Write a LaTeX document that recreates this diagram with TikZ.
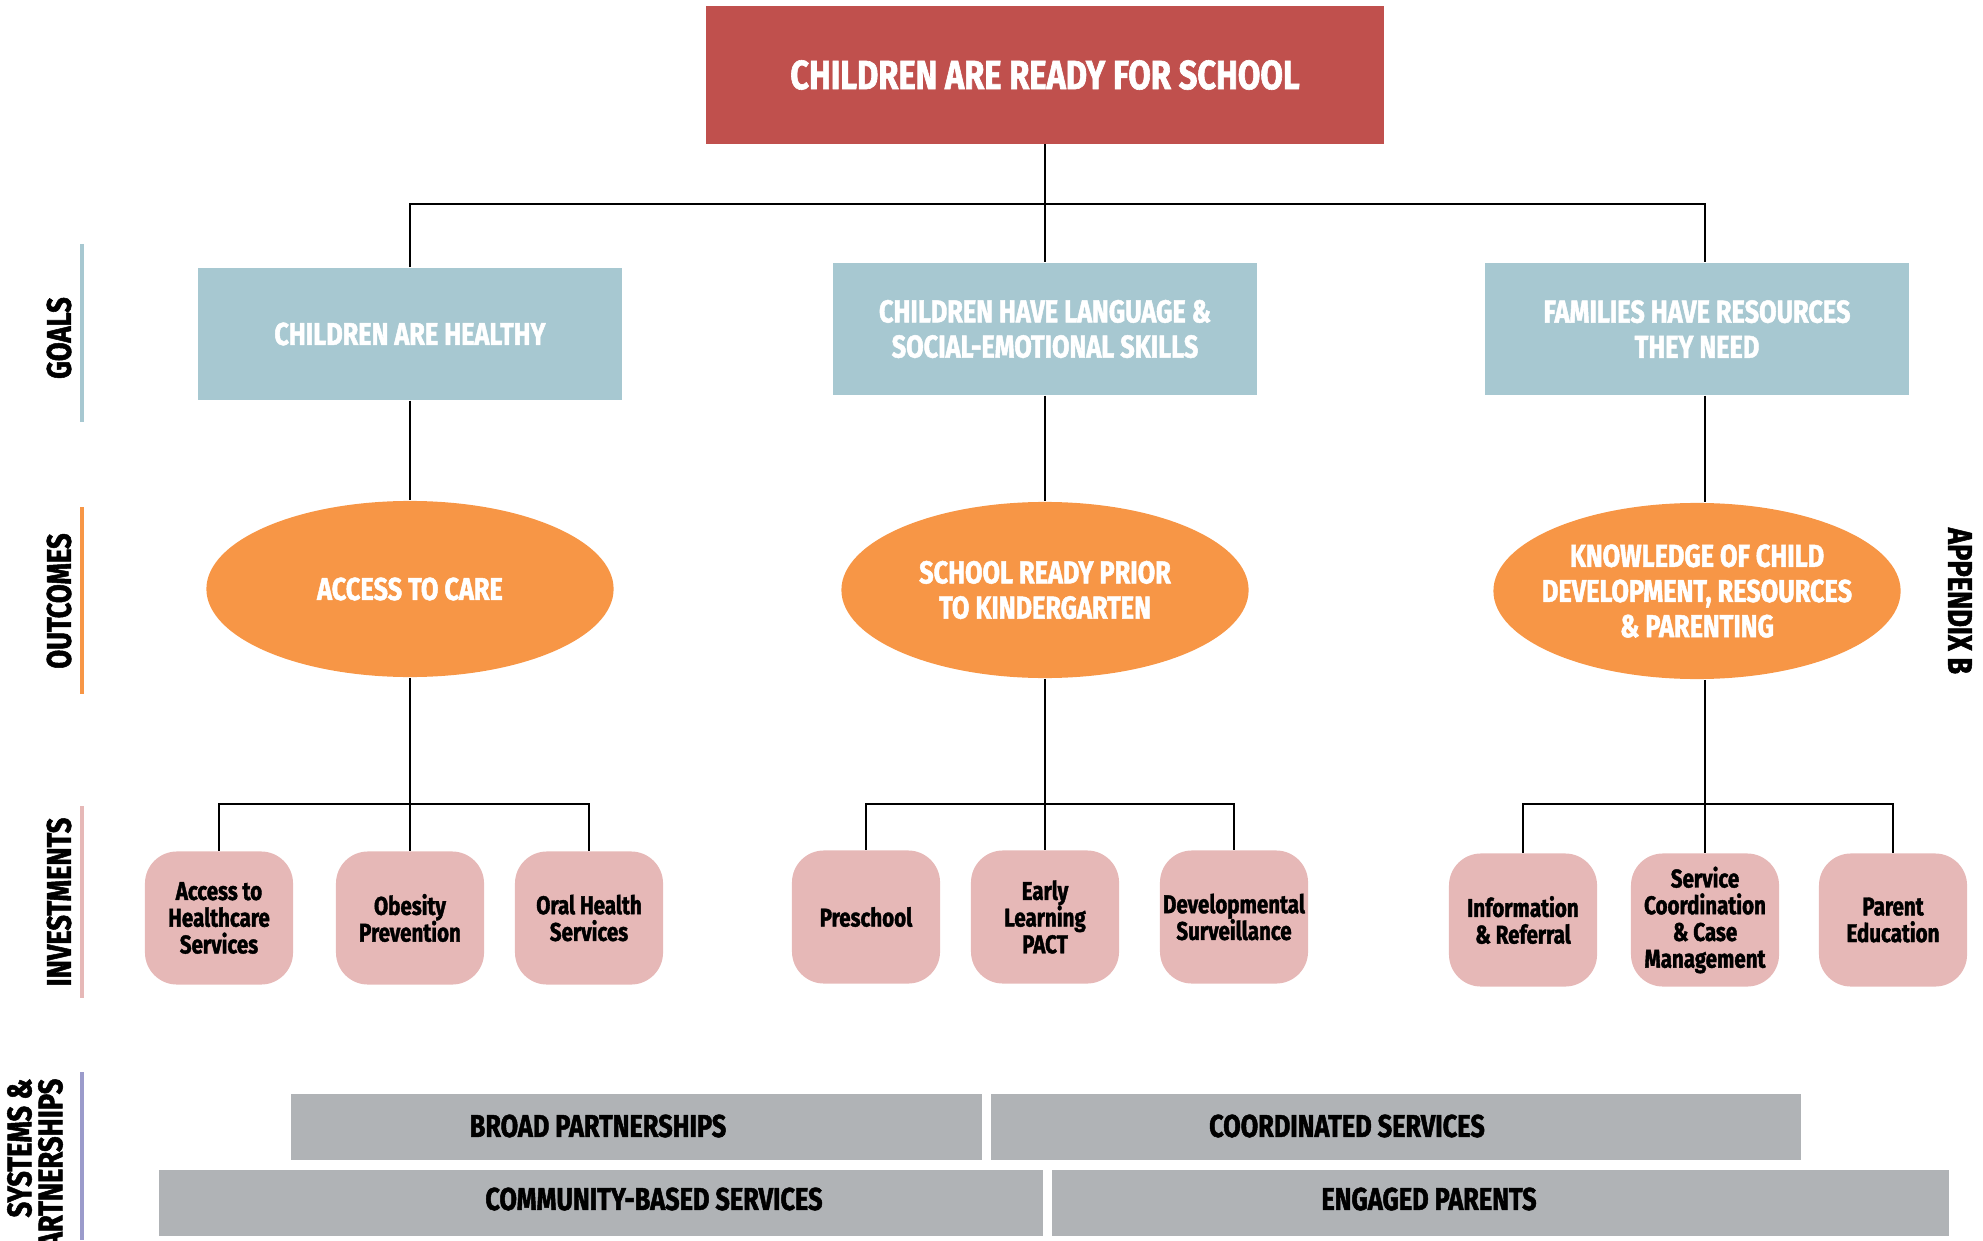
\documentclass[tikz,border=0pt]{standalone}
\usepackage{fontspec}
\setsansfont[FakeStretch=0.8, BoldFeatures={FakeBold=1.5}]{Fira Sans}
\usetikzlibrary{positioning,shapes.geometric,calc}
\definecolor{titlered}{HTML}{C0504D}
\definecolor{goalblue}{HTML}{A7C8D1}
\definecolor{outorange}{HTML}{F79646}
\definecolor{invpink}{HTML}{E6B8B7}
\definecolor{sysgray}{HTML}{B0B3B6}
\definecolor{syspurple}{HTML}{9B9BCB}

\begin{document}
\begin{tikzpicture}[
x = 0.01cm, y = -0.01cm,
every node/.style = {
	font = \bfseries\sffamily,
	inner sep = 0pt
},
title box/.style = {
	fill = titlered,
	text = white,
	minimum width = 6.77cm,
	minimum height = 1.37cm,
	font = \fontsize{11.6}{14}\bfseries\sffamily
},
goal/.style = {
	fill = goalblue,
	text = white,
	minimum width = 4.24cm,
	minimum height = 1.32cm,
	align = center,
	font = \fontsize{9}{10}\bfseries\sffamily
},
outcome/.style = {
	ellipse,
	fill = outorange,
	minimum width = 4.07cm,
	minimum height = 1.76cm
},
outcome text/.style = {
	text = white,
	align = center,
	font = \fontsize{9}{10}\bfseries\sffamily
},
investment/.style = {
	fill = invpink,
	rounded corners = 3.2mm,
	minimum width = 1.48cm,
	minimum height = 1.33cm,
	align = center,
	font = \fontsize{7.3}{7.6}\bfseries\sffamily
},
sysbar/.style = {
	fill = sysgray,
	anchor = west,
	minimum height = 0.65cm
},
systext/.style = {
	font = \fontsize{9}{10}\bfseries\sffamily
},
side label/.style = {
	rotate = 90,
	font = \fontsize{9.7}{8.8}\bfseries\sffamily
},
side bar/.style = {
	line width = 1.2pt
},
link/.style = {
	line width = 0.7pt
}
]
\useasboundingbox (0,0) rectangle (1983,1240);

% side labels
\draw[side bar, goalblue] (82,244) -- (82,422);
\draw[side bar, outorange] (82,507) -- (82,694);
\draw[side bar, invpink] (82,806) -- (82,998);
\draw[side bar, syspurple] (82,1072) -- (82,1240);
\node[side label] (goalslab) at (59,338) {GOALS};
\node[side label] (outlab) at (59,601) {OUTCOMES};
\node[side label] (invlab) at (59,902) {INVESTMENTS};
\node[side label, anchor = east, align = right] (syslab) at (35,1078) {SYSTEMS \&\\PARTNERSHIPS};
\node[side label, rotate = 180] (applab) at (1960,601) {APPENDIX B};

% tree
\node[title box] (top) at (1045,75) {CHILDREN ARE READY FOR SCHOOL};

\node[goal] (g1) at (410,334) {CHILDREN ARE HEALTHY};
\node[goal] (g2) at (1045,329) {CHILDREN HAVE LANGUAGE \&\\SOCIAL-EMOTIONAL SKILLS};
\node[goal] (g3) at (1697,329) {FAMILIES HAVE RESOURCES\\THEY NEED};

\node[outcome, label = {[outcome text]center:ACCESS TO CARE}] (o1) at (410,589) {};
\node[outcome, label = {[outcome text]center:{SCHOOL READY PRIOR\\TO KINDERGARTEN}}] (o2) at (1045,590) {};
\node[outcome, label = {[outcome text]center:{KNOWLEDGE OF CHILD\\DEVELOPMENT, RESOURCES\\\& PARENTING}}] (o3) at (1697,591) {};

\node[investment] (i11) at (219,918) {Access to\\Healthcare\\Services};
\node[investment] (i12) at (410,918) {Obesity\\Prevention};
\node[investment] (i13) at (589,918) {Oral Health\\Services};
\node[investment] (i21) at (866,917) {Preschool};
\node[investment] (i22) at (1045,917) {Early\\Learning\\PACT};
\node[investment] (i23) at (1234,917) {Developmental\\Surveillance};
\node[investment] (i31) at (1523,920) {Information\\\& Referral};
\node[investment] (i32) at (1705,920) {Service\\Coordination\\\& Case\\Management};
\node[investment] (i33) at (1893,920) {Parent\\Education};

\coordinate (bus) at (1045,204);
\coordinate (b1) at (410,804);
\coordinate (b2) at (1045,804);
\coordinate (b3) at (1705,804);

\draw[link] (top) -- (g2);
\draw[link] (g1) |- (bus) -| (b3 |- g3.north);
\draw[link] (g1) -- (o1);
\draw[link] (g2) -- (o2);
\draw[link] (g3.south -| b3) -- (o3.north -| b3);

\draw[link] (o1) -- (b1);
\draw[link] (i11) |- (b1) -| (i13);
\draw[link] (b1) -- (i12);
\draw[link] (o2) -- (b2);
\draw[link] (i21) |- (b2) -| (i23);
\draw[link] (b2) -- (i22);
\draw[link] (o3.south -| b3) -- (b3);
\draw[link] (i31) |- (b3) -| (i33);
\draw[link] (b3) -- (i32);

% systems & partnerships
\node[sysbar, minimum width = 6.91cm] (broad) at (290,1127) {};
\node[sysbar, minimum width = 8.10cm] (coord) at (990,1127) {};
\node[sysbar, minimum width = 8.84cm] (commu) at (158,1203) {};
\node[sysbar, minimum width = 8.97cm] (engag) at (1051,1203) {};
\node[systext] (broadt) at (598,1126) {BROAD PARTNERSHIPS};
\node[systext] (coordt) at (1347,1126) {COORDINATED SERVICES};
\node[systext] (commut) at (654,1199) {COMMUNITY-BASED SERVICES};
\node[systext] (engagt) at (1429,1199) {ENGAGED PARENTS};

\end{tikzpicture}
\end{document}
